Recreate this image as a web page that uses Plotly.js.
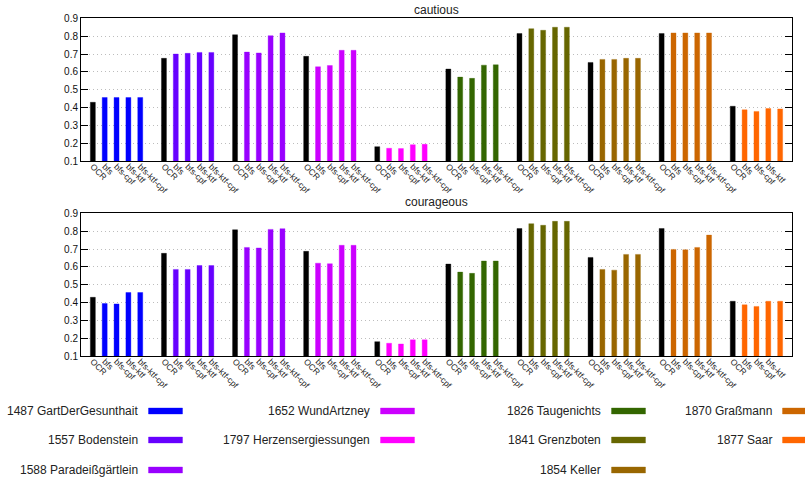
<!DOCTYPE html>
<html>
<head>
<meta charset="utf-8">
<script src="https://cdn.plot.ly/plotly-3.0.1.min.js"></script>
<style>html,body{margin:0;padding:0;background:#fff;}#chart{width:805px;height:479px;}</style>
</head>
<body>
<div id="chart"></div>
<script>
// ---- data ----
const methods = ['OCR', 'bfs', 'bfs-cpf', 'bfs-ktf', 'bfs-ktf-cpf'];
const documents = ['1487 GartDerGesunthait', '1557 Bodenstein', '1588 Paradeißgärtlein', '1652 WundArtzney',
  '1797 Herzensergiessungen', '1826 Taugenichts', '1841 Grenzboten', '1854 Keller', '1870 Graßmann', '1877 Saar'];
const docColors = ['#0000FF', '#6600FF', '#9900FF', '#CC00FF', '#FF00FF', '#336600', '#666600', '#996600', '#CC6600', '#FF6600'];
const panelTitles = ['cautious', 'courageous'];

const ocr = [0.430, 0.676, 0.808, 0.687, 0.182, 0.616, 0.815, 0.653, 0.815, 0.408];

const cautiousBfs       = [0.457, 0.700, 0.711, 0.629, 0.173, 0.571, 0.842, 0.670, 0.818, 0.388];
const cautiousBfsCpf    = [0.457, 0.704, 0.706, 0.636, 0.171, 0.564, 0.833, 0.670, 0.818, 0.379];
const cautiousBfsKtf    = [0.457, 0.709, 0.803, 0.721, 0.193, 0.638, 0.850, 0.676, 0.818, 0.395];
const cautiousBfsKtfCpf = [0.457, 0.709, 0.818, 0.721, 0.195, 0.640, 0.850, 0.676, 0.818, 0.393];

const courageousBfs       = [0.395, 0.586, 0.709, 0.621, 0.173, 0.571, 0.842, 0.586, 0.698, 0.388];
const courageousBfsCpf    = [0.393, 0.586, 0.706, 0.618, 0.169, 0.564, 0.833, 0.582, 0.696, 0.379];
const courageousBfsKtf    = [0.457, 0.608, 0.810, 0.721, 0.192, 0.633, 0.855, 0.670, 0.709, 0.408];
const courageousBfsKtfCpf = [0.457, 0.608, 0.814, 0.721, 0.192, 0.633, 0.855, 0.670, 0.778, 0.408];

const panels = [
  [ocr, cautiousBfs, cautiousBfsCpf, cautiousBfsKtf, cautiousBfsKtfCpf],
  [ocr, courageousBfs, courageousBfsCpf, courageousBfsKtf, courageousBfsKtfCpf]
];

// ---- build ----
const W = 805, H = 479;
const FONT = 'Liberation Sans, Arial, sans-serif';
function rgba(hex, a) {
  const r = parseInt(hex.slice(1, 3), 16), g = parseInt(hex.slice(3, 5), 16), b = parseInt(hex.slice(5, 7), 16);
  return 'rgba(' + r + ',' + g + ',' + b + ',' + a + ')';
}
const slot = methods.length + 1;
const traces = [];
const tickvals = [], ticktext = [];
documents.forEach((d, g) => {
  methods.forEach((m, i) => { tickvals.push(g * slot + 1 + i); ticktext.push(m); });
});
panels.forEach((series, p) => {
  const xa = p === 0 ? 'x' : 'x2', ya = p === 0 ? 'y' : 'y2';
  documents.forEach((d, g) => {
    const xs = [], ys = [], cols = [], lcols = [];
    methods.forEach((m, i) => {
      xs.push(g * slot + 1 + i);
      ys.push(series[i][g]);
      const c = i === 0 ? '#000000' : docColors[g];
      cols.push(c);
      lcols.push(rgba(c, 0.35));
    });
    traces.push({
      type: 'bar', x: xs, y: ys, xaxis: xa, yaxis: ya, width: 0.42,
      name: d, showlegend: false, hoverinfo: 'x+y',
      marker: { color: cols, line: { color: lcols, width: 1 } }
    });
  });
});

const plotL = 81, plotR = 792;
const panelPx = [[18.3, 161.3], [213.3, 356.3]];
function yaxisCfg(p) {
  return {
    domain: [1 - panelPx[p][1] / H, 1 - panelPx[p][0] / H],
    range: [0.1, 0.9], tick0: 0.1, dtick: 0.1, tickformat: '.1f',
    ticks: 'inside', ticklen: 7, tickcolor: '#000', mirror: 'ticks',
    showline: true, linecolor: '#000', linewidth: 1,
    showgrid: true, gridcolor: '#bdbdbd', griddash: '1px,3px', gridwidth: 1,
    zeroline: false, tickfont: { family: FONT, size: 10, color: '#111' },
    anchor: p === 0 ? 'x' : 'x2', fixedrange: true
  };
}
function xaxisCfg(p) {
  return {
    domain: [plotL / W, plotR / W], range: [0, documents.length * slot],
    tickmode: 'array', tickvals: tickvals, ticktext: ticktext, tickangle: 45,
    ticks: '', showline: true, mirror: true, linecolor: '#000', linewidth: 1,
    showgrid: false, zeroline: false, ticklabelstandoff: -4,
    tickfont: { family: FONT, size: 8.5, color: '#222' },
    anchor: p === 0 ? 'y' : 'y2', fixedrange: true
  };
}

const annotations = [];
const shapes = [];
const titleY = [10, 202];
panelTitles.forEach((t, p) => {
  annotations.push({
    text: t, xref: 'paper', yref: 'paper', x: (plotL + plotR) / 2 / W, y: 1 - titleY[p] / H,
    xanchor: 'center', yanchor: 'middle', showarrow: false,
    font: { family: FONT, size: 12, color: '#222' }
  });
});

// legend laid out in columns (text right-aligned, swatch to the right)
const legColText = [140, 372, 603, 774];
const legRowY = [411, 440, 470];
const legColCounts = [3, 2, 3, 2];
let k = 0;
legColCounts.forEach((n, c) => {
  for (let r = 0; r < n; r++, k++) {
    const tx = legColText[c], ty = legRowY[r];
    annotations.push({
      text: documents[k], xref: 'paper', yref: 'paper', x: tx / W, y: 1 - ty / H,
      xanchor: 'right', yanchor: 'middle', showarrow: false,
      font: { family: FONT, size: 12, color: '#222' }
    });
    shapes.push({
      type: 'rect', xref: 'paper', yref: 'paper',
      x0: (tx + 8.5) / W, x1: (tx + 42.5) / W, y0: 1 - (ty + 3) / H, y1: 1 - (ty - 3) / H,
      fillcolor: docColors[k], line: { color: rgba(docColors[k], 0.35), width: 1 }
    });
  }
});

const layout = {
  width: W, height: H, margin: { l: 0, r: 0, t: 0, b: 0 },
  paper_bgcolor: '#fff', plot_bgcolor: '#fff', showlegend: false,
  font: { family: FONT },
  xaxis: xaxisCfg(0), yaxis: yaxisCfg(0), xaxis2: xaxisCfg(1), yaxis2: yaxisCfg(1),
  annotations: annotations, shapes: shapes, barmode: 'group'
};
Plotly.newPlot('chart', traces, layout, { displayModeBar: false, staticPlot: true });
</script>
</body>
</html>
